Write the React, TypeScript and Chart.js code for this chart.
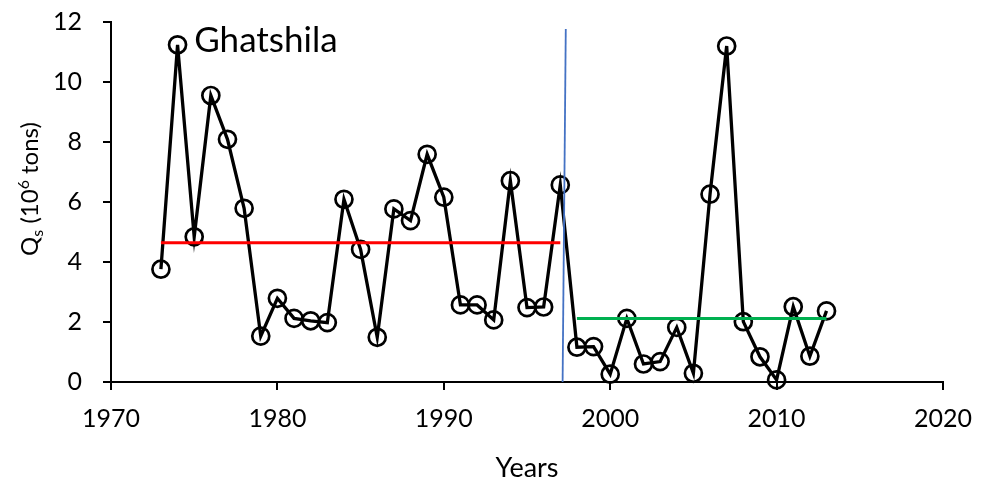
import React, { useEffect, useRef } from "react";
import { Chart, registerables } from "chart.js";

Chart.register(...registerables);

// ---- data ----
const years = [
  1973, 1974, 1975, 1976, 1977, 1978, 1979, 1980, 1981, 1982, 1983, 1984, 1985,
  1986, 1987, 1988, 1989, 1990, 1991, 1992, 1993, 1994, 1995, 1996, 1997, 1998,
  1999, 2000, 2001, 2002, 2003, 2004, 2005, 2006, 2007, 2008, 2009, 2010, 2011,
  2012, 2013,
];
const qs = [
  3.76, 11.24, 4.84, 9.55, 8.09, 5.79, 1.53, 2.79, 2.12, 2.04, 1.98, 6.09, 4.42,
  1.49, 5.77, 5.38, 7.59, 6.16, 2.57, 2.57, 2.07, 6.71, 2.48, 2.5, 6.57, 1.16,
  1.18, 0.26, 2.12, 0.6, 0.68, 1.82, 0.29, 6.26, 11.2, 2.01, 0.84, 0.07, 2.51,
  0.86, 2.37,
];
const preYears = [1973, 1997];
const preMean = [4.64, 4.64];
const postYears = [1998, 2013];
const postMean = [2.12, 2.12];
const changeYears = [1997.33, 1997.14];
const changeValues = [11.77, 0];
const xTickValues = [1970, 1980, 1990, 2000, 2010, 2020];
const yTickValues = [0, 2, 4, 6, 8, 10, 12];
const stationName = "Ghatshila";
const stationLabelAt = [1975, 11.0];
const xTitle = "Years";
const yTitleParts = [
  { text: "Q", kind: "normal" },
  { text: "s", kind: "sub" },
  { text: " (10", kind: "normal" },
  { text: "6", kind: "sup" },
  { text: " tons)", kind: "normal" },
];

const FONT = "Lato, 'Open Sans', 'Noto Sans', sans-serif";

const textPlugin = {
  id: "customTexts",
  afterDraw(chart: any) {
    const { ctx, chartArea, scales } = chart;
    ctx.save();
    ctx.fillStyle = "#000";
    // station label
    ctx.font = `35px ${FONT}`;
    ctx.textAlign = "left";
    ctx.textBaseline = "alphabetic";
    ctx.fillText(
      stationName,
      scales.x.getPixelForValue(stationLabelAt[0]),
      scales.y.getPixelForValue(stationLabelAt[1])
    );
    // x title
    ctx.font = `27px ${FONT}`;
    ctx.textAlign = "center";
    ctx.fillText(xTitle, (chartArea.left + chartArea.right) / 2, chartArea.bottom + 95);
    // y title (rotated, with sub/superscript)
    const fontFor = (k: string) => (k === "normal" ? `24px ${FONT}` : `16px ${FONT}`);
    const dyFor = (k: string) => (k === "sub" ? 5 : k === "sup" ? -9 : 0);
    let total = 0;
    const widths = yTitleParts.map((p) => {
      ctx.font = fontFor(p.kind);
      const w = ctx.measureText(p.text).width;
      total += w;
      return w;
    });
    ctx.translate(38, (chartArea.top + chartArea.bottom) / 2 - 13);
    ctx.rotate(-Math.PI / 2);
    ctx.textAlign = "left";
    let cx = -total / 2;
    yTitleParts.forEach((p, i) => {
      ctx.font = fontFor(p.kind);
      ctx.fillText(p.text, cx, dyFor(p.kind));
      cx += widths[i];
    });
    ctx.restore();
  },
};

export default function App() {
  const canvasRef = useRef<HTMLCanvasElement | null>(null);

  useEffect(() => {
    document.body.style.margin = "0";
    document.body.style.overflow = "hidden";
    const canvas = canvasRef.current;
    if (!canvas) return;
    const chart = new Chart(canvas, {
      type: "line",
      data: {
        datasets: [
          {
            label: "pre",
            data: preYears.map((x, i) => ({ x, y: preMean[i] })),
            borderColor: "#FF0000",
            borderWidth: 3,
            pointRadius: 0,
          },
          {
            label: "post",
            data: postYears.map((x, i) => ({ x, y: postMean[i] })),
            borderColor: "#00B050",
            borderWidth: 3,
            pointRadius: 0,
          },
          {
            label: "change",
            data: changeYears.map((x, i) => ({ x, y: changeValues[i] })),
            borderColor: "#4472C4",
            borderWidth: 1.8,
            pointRadius: 0,
            clip: false,
          },
          {
            label: "Qs",
            data: years.map((x, i) => ({ x, y: qs[i] })),
            borderColor: "#000",
            borderWidth: 3.3,
            pointRadius: 8.5,
            pointBorderWidth: 2.7,
            pointBorderColor: "#000",
            pointBackgroundColor: "rgba(0,0,0,0)",
            clip: false,
          },
        ] as any,
      },
      options: {
        animation: false,
        responsive: false,
        layout: { padding: { top: 22, right: 46, left: 0, bottom: 0 } },
        plugins: { legend: { display: false }, tooltip: { enabled: false } },
        scales: {
          x: {
            type: "linear",
            min: xTickValues[0],
            max: xTickValues[xTickValues.length - 1],
            afterFit: (s: any) => {
              s.height = 100;
              s.paddingLeft = 0;
              s.paddingRight = 0;
              s.paddingTop = 0;
              s.paddingBottom = 0;
            },
            afterBuildTicks: (s: any) => {
              s.ticks = xTickValues.map((v) => ({ value: v }));
            },
            ticks: {
              color: "#000",
              font: { family: FONT, size: 25 },
              padding: 14,
              maxRotation: 0,
              callback: (v: any) => String(v),
            },
            grid: {
              drawOnChartArea: false,
              drawTicks: true,
              tickLength: 8,
              color: "#000",
              lineWidth: 2,
            },
            border: { display: true, color: "#000", width: 2 },
          },
          y: {
            type: "linear",
            min: yTickValues[0],
            max: yTickValues[yTickValues.length - 1],
            afterFit: (s: any) => {
              s.width = 111;
              s.paddingLeft = 0;
              s.paddingRight = 0;
              s.paddingTop = 0;
              s.paddingBottom = 0;
            },
            afterBuildTicks: (s: any) => {
              s.ticks = yTickValues.map((v) => ({ value: v }));
            },
            ticks: {
              color: "#000",
              font: { family: FONT, size: 25 },
              padding: 21,
              callback: (v: any) => String(v),
            },
            grid: {
              drawOnChartArea: false,
              drawTicks: true,
              tickLength: 8,
              color: "#000",
              lineWidth: 2,
            },
            border: { display: true, color: "#000", width: 2 },
          },
        },
      },
      plugins: [textPlugin],
    });
    return () => chart.destroy();
  }, []);

  return (
    <div style={{ width: 989, height: 482, background: "#fff" }}>
      <canvas ref={canvasRef} width={989} height={482} style={{ display: "block" }} />
    </div>
  );
}
